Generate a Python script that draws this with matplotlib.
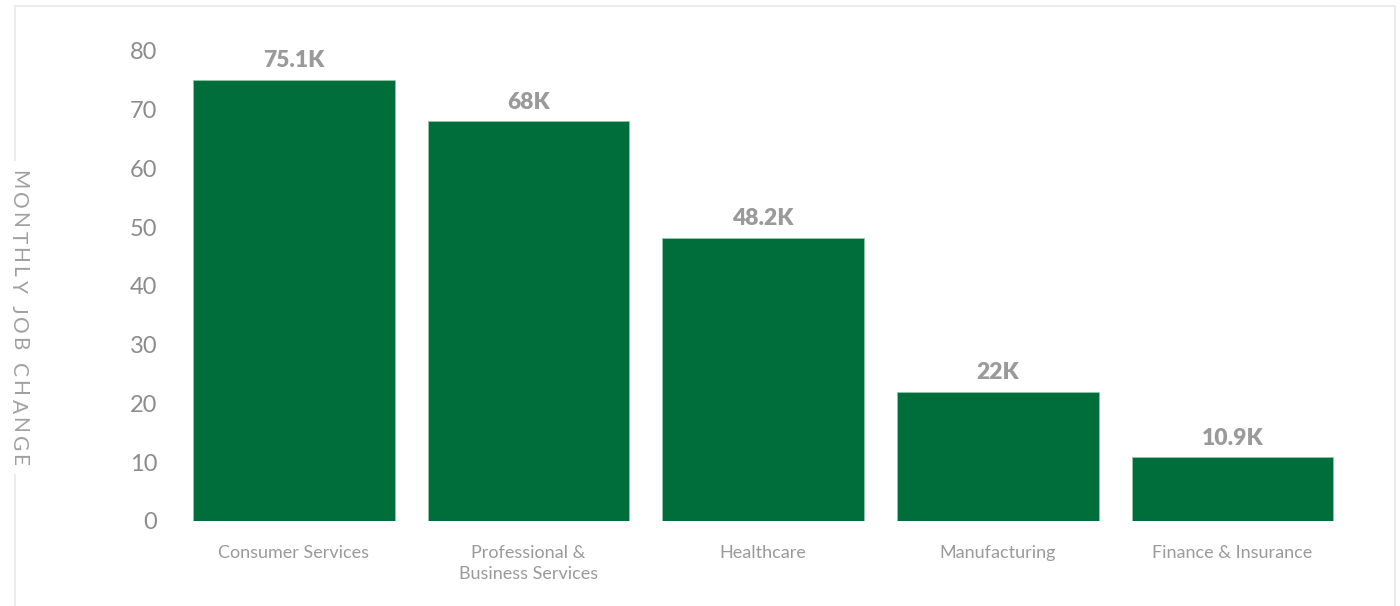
import matplotlib.pyplot as plt
from matplotlib.lines import Line2D

# Monthly job change by sector (thousands)
sectors = ["Consumer Services", "Professional &\nBusiness Services", "Healthcare",
           "Manufacturing", "Finance & Insurance"]
jobs_k = [75.1, 68, 48.2, 22, 10.9]
bar_labels = ["75.1K", "68K", "48.2K", "22K", "10.9K"]
yticks = [0, 10, 20, 30, 40, 50, 60, 70, 80]
ytitle = "MONTHLY JOB CHANGE"

green = "#006e3b"
grey = "#9a9a9a"

plt.rcParams["font.family"] = ["Lato", "DejaVu Sans"]

fig = plt.figure(figsize=(14, 6.06), dpi=100)
ax = fig.add_axes([0.1262, 0.1403, 0.8379, 0.7756])

x = range(len(sectors))
bars = ax.bar(x, jobs_k, width=0.86, color=green, edgecolor="#8fc7a6", linewidth=0.6)

for b, lab in zip(bars, bar_labels):
    ax.annotate(lab, (b.get_x() + b.get_width() / 2, b.get_height()),
                xytext=(0, 6), textcoords="offset points", ha="center", va="bottom",
                fontsize=16.5, fontweight="heavy", color=grey)

ax.set_xlim(-0.5, len(sectors) - 0.5)
ax.set_ylim(0, 80)
ax.set_yticks(yticks)
ax.set_xticks(list(x))
ax.set_xticklabels(sectors, fontsize=13, color=grey, linespacing=1.45)
ax.tick_params(axis="y", labelsize=17, colors="#8c8c8c", length=0, pad=14)
ax.tick_params(axis="x", length=0, pad=17)
for s in ax.spines.values():
    s.set_visible(False)

# letter-spaced vertical axis title, laid out one glyph at a time (top to bottom)
renderer = fig.canvas.get_renderer()
style = dict(rotation=-90, ha="center", va="top", fontsize=15,
             fontweight="normal", color="#a0a0a0")
tracking = 3.2   # px between letters
space_px = 6.0
y_px = 606 - 170
for ch in ytitle:
    if ch == " ":
        y_px -= space_px + tracking
        continue
    t = fig.text(18 / 1400, y_px / 606, ch, **style)
    h = t.get_window_extent(renderer).height
    y_px -= h + tracking

# light frame around the chart, broken where the axis title sits
frame = dict(color="#ececec", linewidth=1.5, transform=fig.transFigure)
fig.add_artist(Line2D([0.0107, 0.9964], [0.990, 0.990], **frame))
fig.add_artist(Line2D([0.9964, 0.9964], [0.990, 0.0], **frame))
fig.add_artist(Line2D([0.0107, 0.0107], [0.990, 0.736], **frame))
fig.add_artist(Line2D([0.0107, 0.0107], [0.216, 0.0], **frame))

fig.savefig("out.png", dpi=100, facecolor="white")
